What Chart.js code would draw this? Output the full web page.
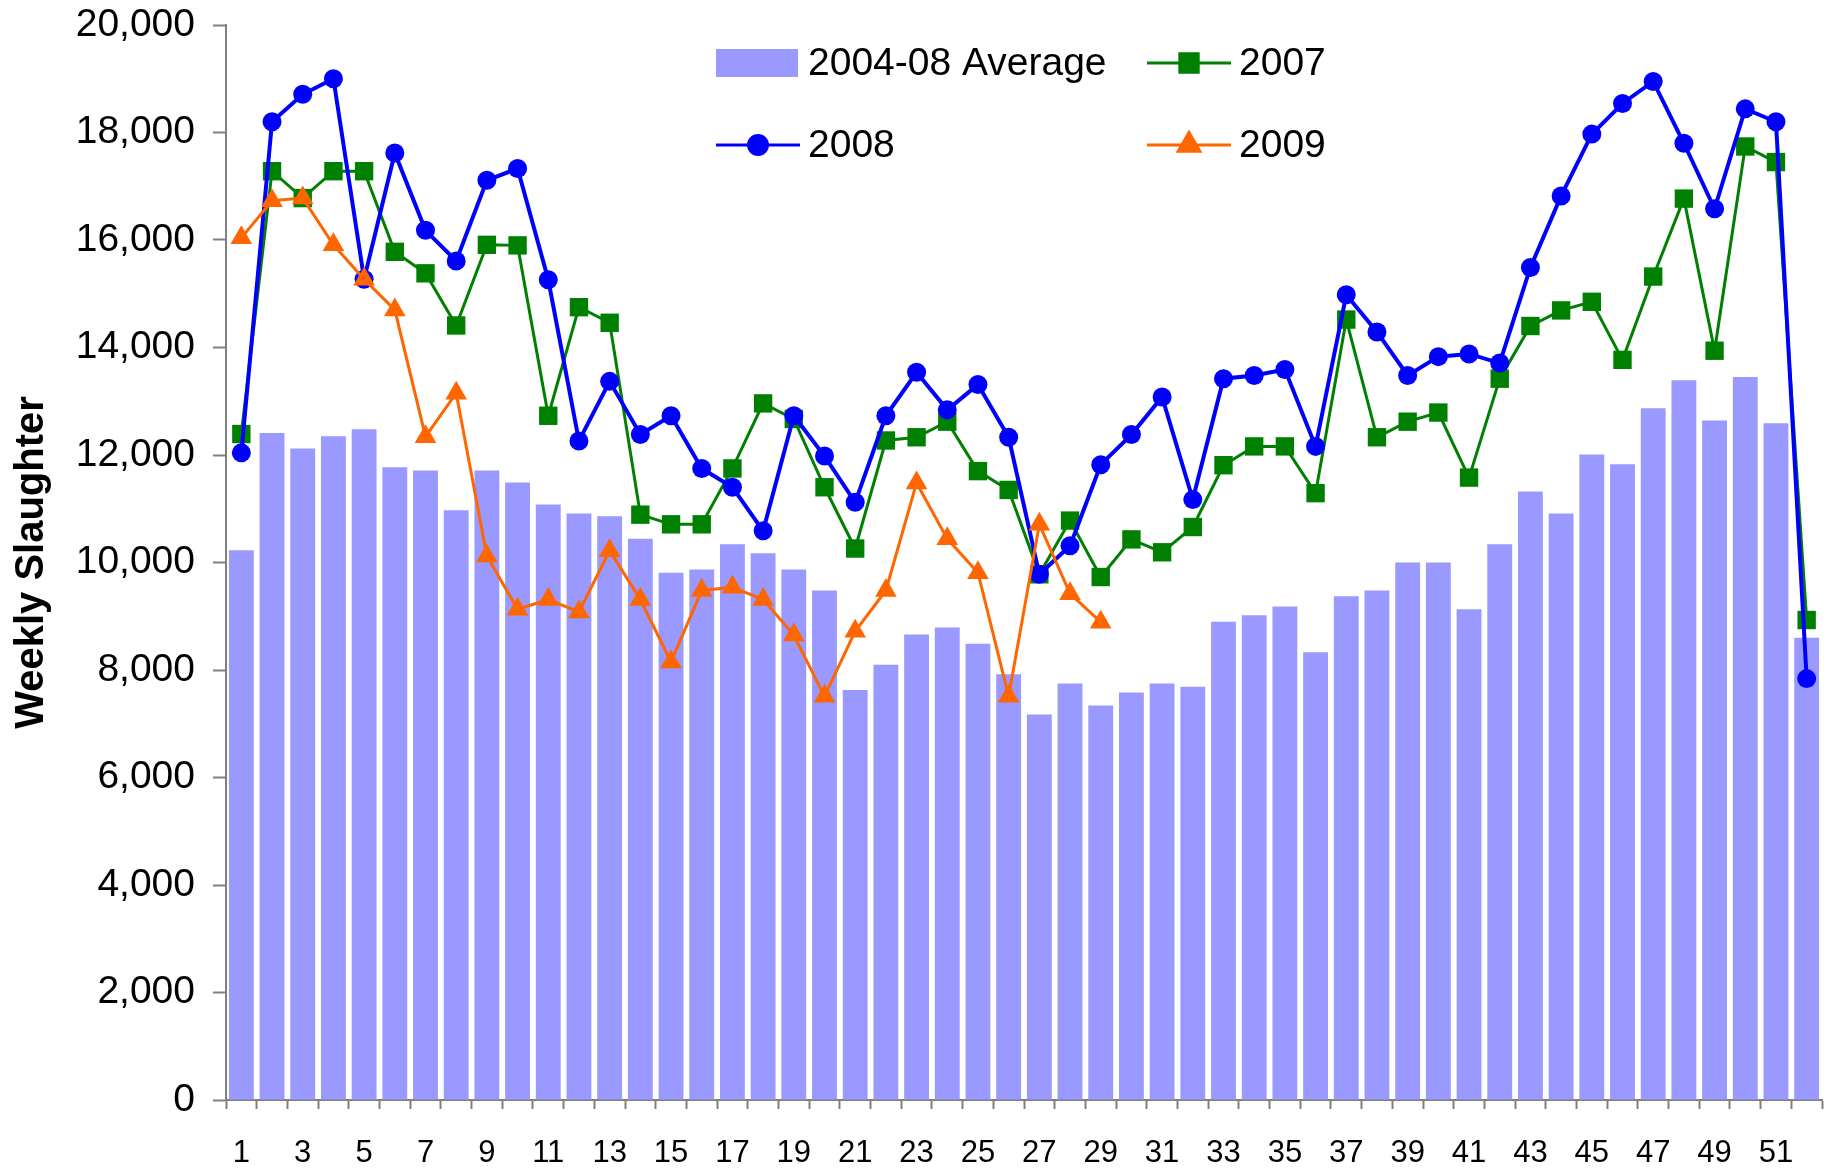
<!DOCTYPE html>
<html>
<head>
<meta charset="utf-8">
<title>Weekly Slaughter</title>
<script src="https://cdn.jsdelivr.net/npm/chart.js@4/dist/chart.umd.min.js"></script>
<style>
    body { margin: 0; background: #ffffff; }
    #wrap { width: 1835px; height: 1168px; position: relative; }
</style>
</head>
<body>
<div id="wrap"><canvas id="slaughterChart"></canvas></div>
<script>
// week numbers 1..52
const weeks = ["1", "2", "3", "4", "5", "6", "7", "8", "9", "10", "11", "12", "13", "14", "15", "16", "17", "18", "19", "20",
    "21", "22", "23", "24", "25", "26", "27", "28", "29", "30", "31", "32", "33", "34", "35", "36", "37", "38", "39", "40",
    "41", "42", "43", "44", "45", "46", "47", "48", "49", "50", "51", "52"];

const avg0408 = [10230, 12410, 12120, 12350, 12480, 11770, 11710, 10970, 11710, 11490, 11080, 10910, 10860, 10440, 9810, 9870,
    10340, 10170, 9870, 9480, 7630, 8100, 8660, 8790, 8490, 7920, 7170, 7750, 7340, 7580, 7750, 7690, 8900, 9020, 9180, 8330,
    9370, 9480, 10000, 10000, 9130, 10340, 11320, 10910, 12010, 11830, 12870, 13390, 12640, 13450, 12590, 8600];

const y2007 = [12390, 17280, 16780, 17280, 17280, 15780, 15380, 14410, 15910, 15900, 12730, 14750, 14460, 10890, 10710, 10710,
    11750, 12960, 12670, 11400, 10260, 12270, 12330, 12620, 11700, 11350, 9780, 10780, 9730, 10430, 10190, 10660, 11810, 12160,
    12160, 11290, 14520, 12330, 12620, 12790, 11580, 13420, 14400, 14690, 14850, 13770, 15320, 16770, 13940, 17740, 17450, 8930];

const y2008 = [12040, 18200, 18710, 19000, 15270, 17620, 16180, 15610, 17110, 17330, 15260, 12260, 13370, 12380, 12730, 11750,
    11400, 10590, 12730, 11980, 11120, 12730, 13540, 12840, 13310, 12330, 9780, 10310, 11820, 12380, 13080, 11170, 13420, 13480,
    13590, 12160, 14980, 14290, 13480, 13830, 13880, 13710, 15490, 16820, 17970, 18540, 18950, 17800, 16580, 18440, 18200, 7840];

// 2009 only runs to week 29
const y2009 = [16040, 16730, 16780, 15910, 15270, 14700, 12340, 13150, 10120, 9130, 9310, 9080, 10220, 9310, 8150, 9480,
    9540, 9310, 8650, 7510, 8720, 9480, 11480, 10440, 9810, 7510, 10710, 9420, 8890];

const yTicks = [0, 2000, 4000, 6000, 8000, 10000, 12000, 14000, 16000, 18000, 20000];

const axisGray = "#808080";
const labelFont = "'Liberation Sans', Arial, sans-serif";

// legend drawn as a 2x2 block inside the plot, like the original
const gridLegend = {
    id: "gridLegend",
    afterDraw(chart) {
        const ctx = chart.ctx;
        const ds = chart.data.datasets;
        const slots = [
            { x: 716, y: 63 }, { x: 1147, y: 63 },
            { x: 716, y: 145 }, { x: 1147, y: 145 }
        ];
        ctx.save();
        ctx.font = "39px " + labelFont;
        ctx.textBaseline = "middle";
        ctx.fillStyle = "#000000";
        ds.forEach(function (d, i) {
            const s = slots[i];
            if (d.type === "bar") {
                ctx.fillStyle = d.backgroundColor;
                ctx.fillRect(s.x, s.y - 14, 82, 28);
            } else {
                ctx.strokeStyle = d.borderColor;
                ctx.lineWidth = 3;
                ctx.beginPath();
                ctx.moveTo(s.x, s.y);
                ctx.lineTo(s.x + 84, s.y);
                ctx.stroke();
                Chart.helpers.drawPoint(ctx, {
                    pointStyle: d.pointStyle,
                    radius: d.pointRadius,
                    borderWidth: 1,
                    rotation: 0
                }, s.x + 42, s.y);
                ctx.fillStyle = d.pointBackgroundColor;
                ctx.fill();
            }
            ctx.fillStyle = "#000000";
            ctx.fillText(d.label, s.x + 92, s.y + 1);
        });
        ctx.restore();
    }
};

document.addEventListener("DOMContentLoaded", function () {
    const ctx = document.getElementById("slaughterChart");

    const data = {
        labels: weeks,
        datasets: [{
            type: "bar",
            label: "2004-08 Average",
            data: avg0408,
            backgroundColor: "#9999FF",
            categoryPercentage: 1.0,
            barPercentage: 0.81,
            order: 4
        }, {
            type: "line",
            label: "2007",
            data: y2007,
            borderColor: "#008000",
            borderWidth: 3,
            pointStyle: "rect",
            pointRadius: 13,
            pointBackgroundColor: "#008000",
            pointBorderColor: "#008000",
            pointBorderWidth: 0,
            tension: 0,
            order: 3
        }, {
            type: "line",
            label: "2008",
            data: y2008,
            borderColor: "#0000FF",
            borderWidth: 4,
            pointStyle: "circle",
            pointRadius: 9.5,
            pointBackgroundColor: "#0000FF",
            pointBorderColor: "#0000FF",
            pointBorderWidth: 0,
            tension: 0,
            order: 2
        }, {
            type: "line",
            label: "2009",
            data: y2009,
            borderColor: "#FF6600",
            borderWidth: 3,
            pointStyle: "triangle",
            pointRadius: 12.5,
            pointBackgroundColor: "#FF6600",
            pointBorderColor: "#FF6600",
            pointBorderWidth: 0,
            tension: 0,
            order: 1
        }]
    };

    new Chart(ctx, {
        type: "bar",
        data: data,
        plugins: [gridLegend],
        options: {
            responsive: true,
            maintainAspectRatio: false,
            animation: false,
            devicePixelRatio: 1,
            layout: { padding: { left: 0, right: 10, top: 25, bottom: 0 } },
            plugins: {
                legend: { display: false },
                tooltip: { enabled: false }
            },
            scales: {
                x: {
                    offset: true,
                    grid: {
                        offset: true,
                        drawOnChartArea: false,
                        drawTicks: true,
                        tickLength: 9,
                        tickColor: axisGray,
                        tickWidth: 2
                    },
                    border: { color: axisGray, width: 2 },
                    ticks: {
                        autoSkip: false,
                        maxRotation: 0,
                        padding: 26,
                        color: "#000000",
                        font: { family: labelFont, size: 31 },
                        callback: function (val, index) {
                            return index % 2 === 0 ? weeks[index] : "";
                        }
                    },
                    afterFit: function (scale) {
                        scale.height = 68;
                        scale.paddingLeft = 0;
                        scale.paddingRight = 0;
                    }
                },
                y: {
                    min: yTicks[0],
                    max: yTicks[yTicks.length - 1],
                    afterBuildTicks: function (scale) {
                        scale.ticks = yTicks.map(function (v) { return { value: v }; });
                    },
                    grid: {
                        drawOnChartArea: false,
                        drawTicks: true,
                        tickLength: 13,
                        tickColor: axisGray,
                        tickWidth: 2
                    },
                    border: { color: axisGray, width: 2 },
                    ticks: {
                        padding: 18,
                        color: "#000000",
                        font: { family: labelFont, size: 39 },
                        callback: function (v) { return v.toLocaleString("en-US"); }
                    },
                    title: {
                        display: true,
                        text: "Weekly Slaughter",
                        color: "#000000",
                        font: { family: labelFont, size: 40, weight: "bold" },
                        padding: { top: 8, bottom: 0 }
                    },
                    afterFit: function (scale) {
                        scale.width = 226;
                        scale.paddingTop = 0;
                        scale.paddingBottom = 0;
                    }
                }
            }
        }
    });
});
</script>
</body>
</html>
